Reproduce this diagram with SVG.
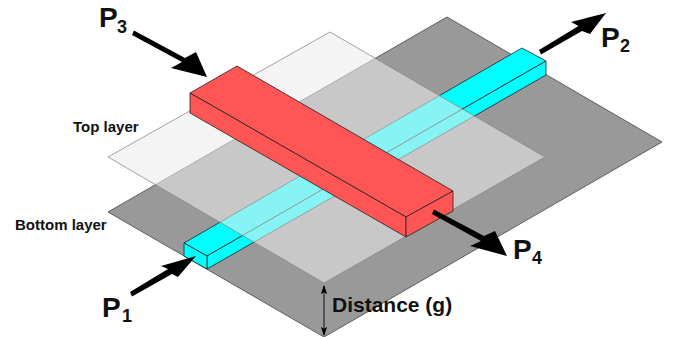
<svg xmlns="http://www.w3.org/2000/svg" width="680" height="337" viewBox="0 0 680 337">
<style>
text{font-family:"Liberation Sans",Arial,sans-serif;font-weight:bold;fill:#111}
.p{font-size:28px}.s{font-size:18px}.l{font-size:15px}
.arrow{fill:#000}
.thin{stroke:#222;stroke-width:.8;stroke-linejoin:round}
</style>
<defs>
<marker id="tick" viewBox="0 0 10 10" refX="9" refY="5" markerWidth="9" markerHeight="9" markerUnits="userSpaceOnUse" orient="auto-start-reverse"><path d="M0 1.500L10 5L0 8.500L2 5Z" fill="#000"/></marker>
</defs>
<rect width="680" height="337" fill="#fff"/>
<g id="bottom-layer">
<polygon points="108,212 447,17 662,142 324,337" fill="#999" stroke="#444" stroke-width=".8"/>
<text class="l" x="15" y="230">Bottom layer</text>
</g>
<g id="microstrip-bottom">
<polygon points="184,243 522,48 546,61 207,256" fill="#0ff" class="thin"/>
<polygon points="207,256 546,61 546,75 207,269" fill="#0ff" class="thin"/>
<polygon points="184,243 207,256 207,269 184,256" fill="#0ff" class="thin"/>
</g>
<g id="top-layer">
<polygon points="108,157 330,32 545,157 324,283" fill="#ebebeb" fill-opacity=".57" stroke="#8a8a8a" stroke-width=".8"/>
<text class="l" x="73" y="132">Top layer</text>
</g>
<g id="microstrip-top">
<polygon points="190,93 237,66 453,191 406,217" fill="#f55" class="thin"/>
<polygon points="190,93 406,217 406,237 190,113" fill="#f55" class="thin"/>
<polygon points="406,217 453,191 453,211 406,237" fill="#f55" class="thin"/>
</g>
<g id="connectors">
<path class="arrow" d="M130 292L168 269 161 266 196 256 178 277 172 274 132 296.500Z"/>
<path class="arrow" d="M539 50L578.500 26 571 22 606 13 590 34 582 31 541 54.500Z"/>
<path class="arrow" d="M134 30.500L185 58 196 52 207 77 171 68 182 62 132 35Z"/>
<path class="arrow" d="M434 209.500L484 236 495 231 507 256 470 246 481 241 432 214Z"/>
<line x1="324" y1="286" x2="324" y2="335" stroke="#111" stroke-width="1" marker-start="url(#tick)" marker-end="url(#tick)"/>
</g>
<g id="labels">
<text class="p" x="102" y="317">P</text><text class="s" x="122" y="322">1</text>
<text class="p" x="601" y="47">P</text><text class="s" x="620" y="52">2</text>
<text class="p" x="99" y="27">P</text><text class="s" x="117" y="33">3</text>
<text class="p" x="513" y="259">P</text><text class="s" x="532" y="264">4</text>
<text x="332" y="312" font-size="21px">Distance (g)</text>
</g>
</svg>
